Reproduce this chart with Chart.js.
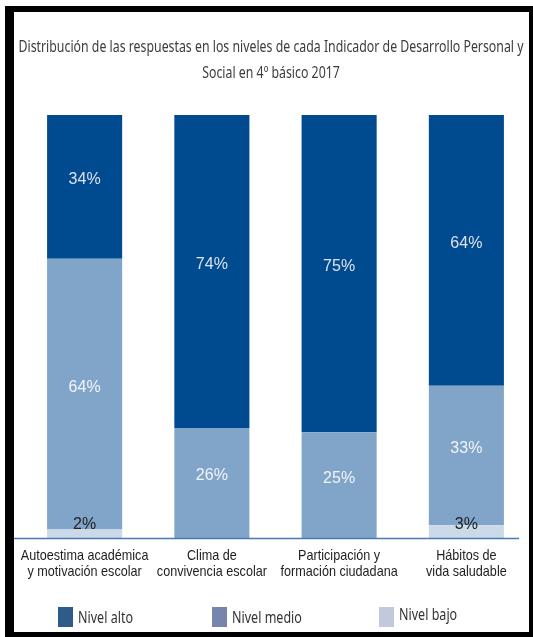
<!DOCTYPE html>
<html>
<head>
<meta charset="utf-8">
<script src="https://cdn.jsdelivr.net/npm/chart.js@4.4.0/dist/chart.umd.min.js"></script>
<style>
    html, body { margin: 0; padding: 0; background: #fff; }
    #wrap { position: relative; width: 533px; height: 637px; }
    #frame {
        position: absolute; left: 5px; top: 6px; right: 0; bottom: 0;
        border-style: solid; border-color: #000;
        border-width: 6px 4px 5px 9px;
        pointer-events: none;
    }
</style>
</head>
<body>
<div id="wrap">
    <canvas id="chart" width="533" height="637"></canvas>
    <div id="frame"></div>
</div>
<script>
// ==========================================================================================================
// -- Data --
// ==========================================================================================================

const categories = [
    ['Autoestima académica', 'y motivación escolar'],
    ['Clima de', 'convivencia escolar'],
    ['Participación y', 'formación ciudadana'],
    ['Hábitos de', 'vida saludable']
];
const seriesNames = ['Nivel alto', 'Nivel medio', 'Nivel bajo'];
const nivelAlto = [34, 74, 75, 64];
const nivelMedio = [64, 26, 25, 33];
const nivelBajo = [2, 0, 0, 3];

const titleLines = [
    'Distribución de las respuestas en los niveles de cada Indicador de Desarrollo Personal y',
    'Social en 4º básico 2017'
];

// bar colours and (slightly different) legend swatch colours
const barColors = ['#004a8f', '#80a5c9', '#cbd9e8'];
const legendColors = ['#2f5b8b', '#7585ae', '#c2c9dd'];
const labelColors = ['#dde3ee', '#f2f5fa', '#222'];

// ==========================================================================================================
// -- Helpers --
// ==========================================================================================================

// draw text compressed horizontally by a factor (the original uses condensed faces)
function squeezeText(ctx, text, x, y, factor) {
    ctx.fillText(text, x, y, ctx.measureText(text).width * factor);
}

// ==========================================================================================================
// -- Plugins --
// ==========================================================================================================

// Title ----------------------------------------------------------------------------------------------
const titleBlock = {
    id: 'titleBlock',
    afterDraw(chart) {
        const { ctx } = chart;
        ctx.save();
        ctx.font = '16px "Noto Sans", sans-serif';
        ctx.fillStyle = '#3c3c3c';
        ctx.textAlign = 'center';
        ctx.textBaseline = 'alphabetic';
        const factor = 505 / ctx.measureText(titleLines[0]).width;
        squeezeText(ctx, titleLines[0], 271, 52, factor);
        squeezeText(ctx, titleLines[1], 271, 78, factor);
        ctx.restore();
    }
};

// Category labels under the bars ---------------------------------------------------------------------
const categoryLabels = {
    id: 'categoryLabels',
    afterDraw(chart) {
        const { ctx } = chart;
        const xs = chart.scales.x;
        const base = chart.scales.y.getPixelForValue(0);
        ctx.save();
        ctx.font = '14.5px "Liberation Sans", Arial, sans-serif';
        ctx.fillStyle = '#1e1e1e';
        ctx.textAlign = 'center';
        ctx.textBaseline = 'alphabetic';
        categories.forEach((lines, i) => {
            const x = xs.getPixelForValue(i);
            lines.forEach((line, j) => squeezeText(ctx, line, x, base + 22 + j * 16, 0.87));
        });
        ctx.restore();
    }
};

// Percent labels inside the segments -------------------------------------------------------------------
const segmentLabels = {
    id: 'segmentLabels',
    afterDatasetsDraw(chart) {
        const { ctx } = chart;
        const base = chart.scales.y.getPixelForValue(0);
        ctx.save();
        ctx.font = '16px "Liberation Sans", Arial, sans-serif';
        ctx.textAlign = 'center';
        ctx.textBaseline = 'middle';
        chart.data.datasets.forEach((ds, di) => {
            const meta = chart.getDatasetMeta(di);
            const s = ds.seriesIndex;
            meta.data.forEach((bar, i) => {
                const v = ds.data[i];
                if (!v) return;
                ctx.fillStyle = labelColors[s];
                // the small "bajo" values sit just above the baseline
                const y = s === 2 ? base - 13 : (bar.y + bar.base) / 2 - 7;
                ctx.fillText(v + '%', bar.x, y);
            });
        });
        ctx.restore();
    }
};

// Blue baseline -----------------------------------------------------------------------------------------
const baseLine = {
    id: 'baseLine',
    afterDatasetsDraw(chart) {
        const { ctx, chartArea } = chart;
        const y = chart.scales.y.getPixelForValue(0) + 0.5;
        ctx.save();
        ctx.strokeStyle = '#4a7ab3';
        ctx.lineWidth = 1.5;
        ctx.beginPath();
        ctx.moveTo(chartArea.left - 8, y);
        ctx.lineTo(chartArea.right - 11, y);
        ctx.stroke();
        ctx.restore();
    }
};

// Legend ------------------------------------------------------------------------------------------------
const legendRow = {
    id: 'legendRow',
    afterDraw(chart) {
        const { ctx } = chart;
        const swatchX = [58, 212, 379];
        ctx.save();
        ctx.font = '17px "Noto Sans", sans-serif';
        ctx.textAlign = 'left';
        ctx.textBaseline = 'middle';
        const factor = 55 / ctx.measureText(seriesNames[0]).width;
        seriesNames.forEach((name, i) => {
            ctx.fillStyle = legendColors[i];
            ctx.fillRect(swatchX[i], 607, 15, 20);
            ctx.fillStyle = '#333';
            squeezeText(ctx, name, swatchX[i] + 20, i === 2 ? 615 : 618, factor);
        });
        ctx.restore();
    }
};

// ==========================================================================================================
// -- Chart --
// ==========================================================================================================

const ctx = document.getElementById('chart').getContext('2d');

// stacked bottom-up: bajo, medio, alto
const stackOrder = [2, 1, 0];
const seriesValues = [nivelAlto, nivelMedio, nivelBajo];

new Chart(ctx, {
    type: 'bar',
    data: {
        labels: categories,
        datasets: stackOrder.map(s => ({
            label: seriesNames[s],
            seriesIndex: s,
            data: seriesValues[s],
            backgroundColor: barColors[s],
            borderWidth: 0,
            barPercentage: 0.59,
            categoryPercentage: 1
        }))
    },
    options: {
        responsive: false,
        animation: false,
        layout: { padding: { left: 21, right: 3, top: 115, bottom: 99 } },
        scales: {
            x: {
                stacked: true,
                display: false
            },
            y: {
                stacked: true,
                display: false,
                min: 0,
                max: 100
            }
        },
        plugins: {
            legend: { display: false },
            tooltip: { enabled: false },
            title: { display: false }
        }
    },
    plugins: [segmentLabels, baseLine, categoryLabels, titleBlock, legendRow]
});
</script>
</body>
</html>
